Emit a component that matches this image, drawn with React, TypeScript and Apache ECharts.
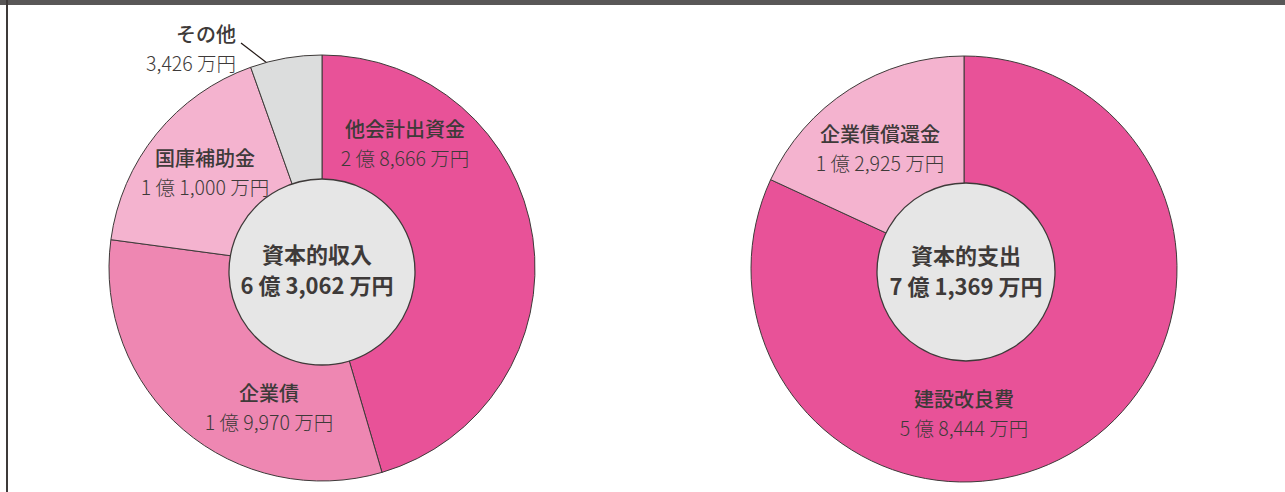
import React, { useEffect, useRef } from "react";
import * as echarts from "echarts";

// Values in 万円
const incomeNames = ["他会計出資金", "企業債", "国庫補助金", "その他"];
const incomeValues = [28666, 19970, 11000, 3426];
const incomeColors = ["#E85298", "#EE87B2", "#F4B3CF", "#DCDDDD"];
const incomeTitle = "資本的収入";

const expenseNames = ["建設改良費", "企業債償還金"];
const expenseValues = [58444, 12925];
const expenseColors = ["#E85298", "#F4B3CF"];
const expenseTitle = "資本的支出";

const fmt = (v: number) => {
  const oku = Math.floor(v / 10000);
  const man = v % 10000;
  const manStr = man.toLocaleString("en-US");
  return oku > 0 ? `${oku} 億 ${manStr} 万円` : `${manStr} 万円`;
};

const TEXT = "#3E3A39";
const BORDER = "#3E3A39";
const FONT = "'Noto Sans CJK JP', 'Noto Sans', sans-serif";

// label anchor positions (pixels)
const incomeLabelPos = [
  { x: 405, y: 143, align: "center" },
  { x: 269, y: 407, align: "center" },
  { x: 205, y: 172, align: "center" },
  { x: 236, y: 48, align: "right" },
];
const expenseLabelPos = [
  { x: 964, y: 413, align: "center" },
  { x: 880, y: 148, align: "center" },
];

export default function App() {
  const ref = useRef<HTMLDivElement>(null);
  useEffect(() => {
    if (!ref.current) return;
    const chart = echarts.init(ref.current, null, { renderer: "svg" });
    const rich = {
      n: { fontSize: 20, fontWeight: 500, color: TEXT, lineHeight: 29, fontFamily: FONT },
      v: { fontSize: 19.5, fontWeight: 300, color: TEXT, lineHeight: 29, fontFamily: FONT },
      c: { fontSize: 22, fontWeight: "bold", color: TEXT, lineHeight: 31, fontFamily: FONT },
    };
    const mkPie = (names: string[], values: number[], colors: string[], center: number[], pos: any[]) => ({
      type: "pie",
      center,
      radius: 213,
      startAngle: 90,
      clockwise: true,
      silent: true,
      z: 1,
      itemStyle: { borderColor: BORDER, borderWidth: 1 },
      label: {
        show: true,
        position: "inside",
        formatter: (p: any) => `{n|${p.name}}\n{v|${fmt(p.value)}}`,
        rich,
      },
      labelLine: { show: false },
      labelLayout: (p: any) => {
        const q = pos[p.dataIndex];
        return { x: q.x, y: q.y, align: q.align, verticalAlign: "middle" };
      },
      data: names.map((n, i) => ({
        name: n,
        value: values[i],
        itemStyle: { color: colors[i] },
      })),
    });
    const mkCenter = (title: string, values: number[], center: number[], r: number, offset: number[]) => ({
      type: "pie",
      center,
      radius: r,
      silent: true,
      z: 5,
      itemStyle: { color: "#E6E6E6", borderColor: BORDER, borderWidth: 1.3 },
      label: {
        show: true,
        position: "center",
        offset,
        formatter: () => `{c|${title}}\n{c|${fmt(values.reduce((a, b) => a + b, 0))}}`,
        rich,
      },
      labelLine: { show: false },
      data: [{ name: title, value: 1 }],
    });
    chart.setOption({
      animation: false,
      graphic: [
        { type: "rect", shape: { x: 0, y: 0, width: 1285, height: 5 }, style: { fill: "#595757" } },
        { type: "rect", shape: { x: 6, y: 0, width: 2, height: 492 }, style: { fill: "#3E3A39" } },
        {
          type: "line",
          shape: { x1: 241, y1: 43, x2: 280, y2: 73 },
          style: { stroke: "#231815", lineWidth: 1.3 },
        },
      ],
      series: [
        mkPie(incomeNames, incomeValues, incomeColors, [322, 268], incomeLabelPos),
        mkCenter(incomeTitle, incomeValues, [322, 272], 93, [-5, -4]),
        mkPie(expenseNames, expenseValues, expenseColors, [964, 269], expenseLabelPos),
        mkCenter(expenseTitle, expenseValues, [966, 272], 89, [0, -3]),
      ],
    });
    return () => chart.dispose();
  }, []);
  return (
    <div
      ref={ref}
      style={{ position: "absolute", left: 0, top: 0, width: 1285, height: 492, background: "#fff" }}
    />
  );
}
